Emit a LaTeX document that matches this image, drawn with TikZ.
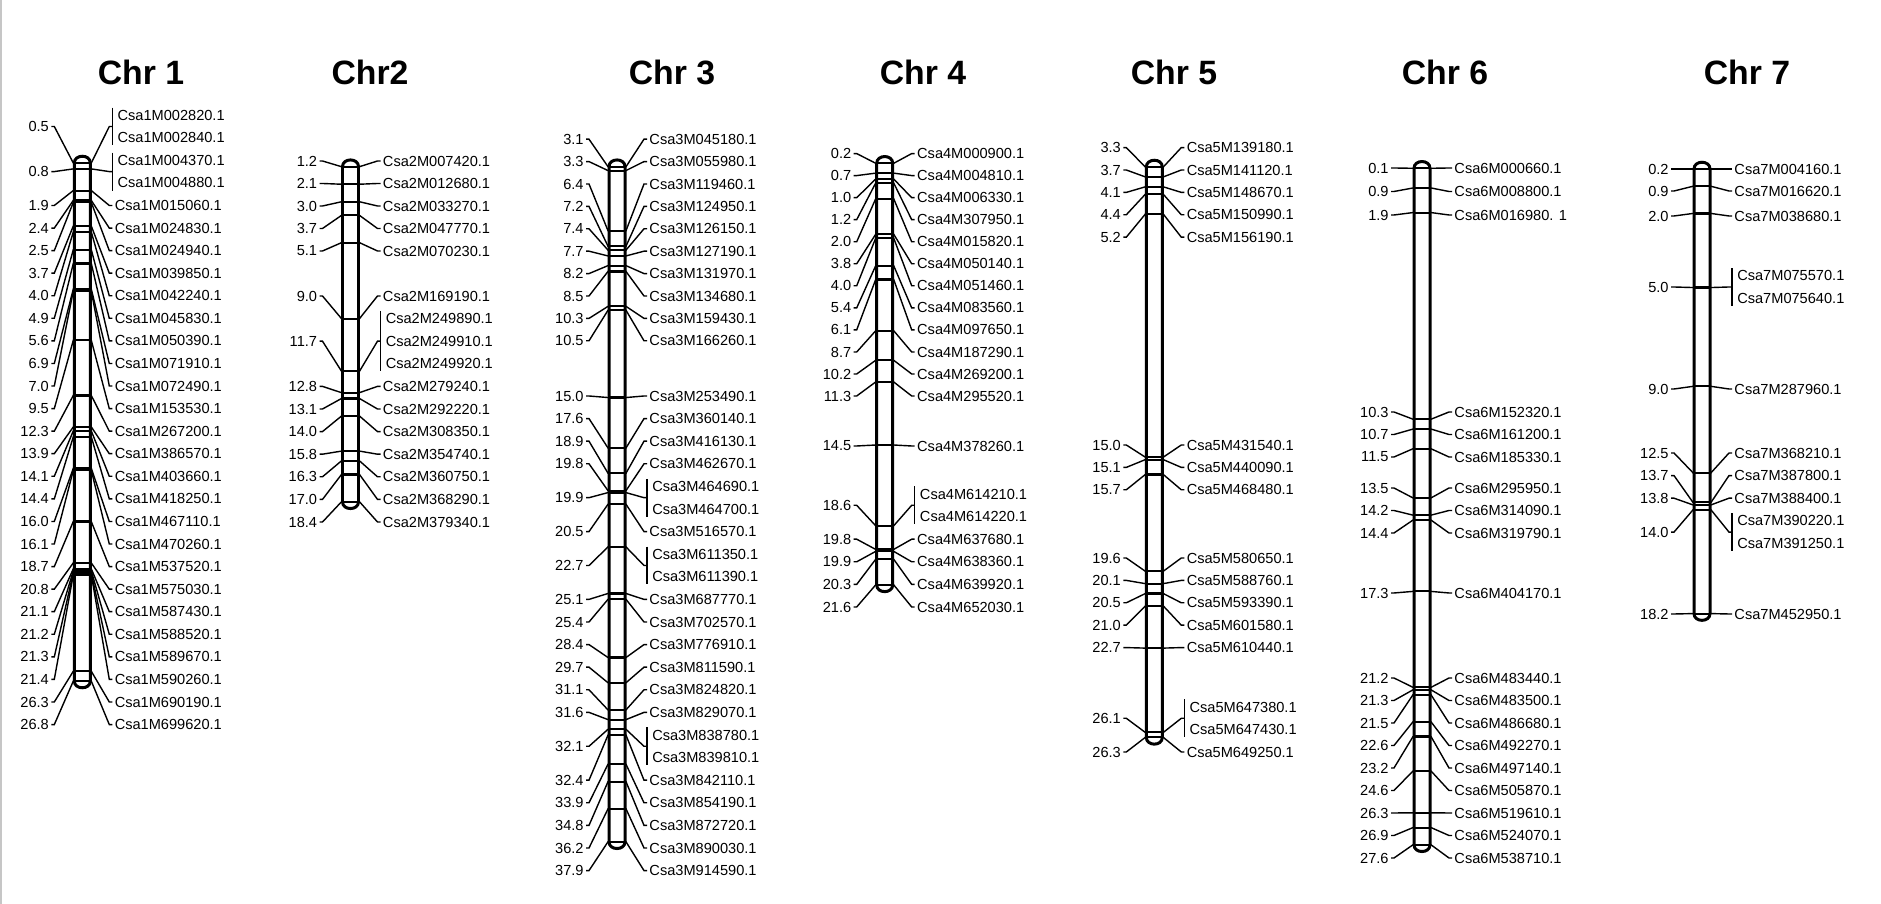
\documentclass[tikz,border=0pt]{standalone}
\usepackage{fontspec}
\setmainfont{Liberation Sans}
\begin{document}
\begin{tikzpicture}[x=0.01cm,y=-0.01cm,
        chrbar/.style={line width=0.85pt},
        markline/.style={line width=0.6pt},
        leader/.style={line width=0.4pt},
        poslabel/.style={anchor=east,inner sep=0.5pt,font=\fontsize{4.15}{6.43}\selectfont},
        genelabel/.style={anchor=west,inner sep=0.5pt,align=left,font=\fontsize{4.15}{6.43}\selectfont},
        chrtitle/.style={font=\fontsize{9.6}{11}\selectfont\bfseries}]
    \useasboundingbox (0,0) rectangle (1881,904);
    \draw [gray!45,line width=0.8pt] (1,0) -- (1,904);
    % Chr 1
    \node [chrtitle] (t1) at (141,72) {Chr 1};
    \begin{scope}[shift={(82.3,0)}]
        \draw [chrbar] (-8,163) -- (-8,681.1) .. controls (-8,690) and (8,690) .. (8,681.1) -- (8,163) .. controls (8,154) and (-8,154) .. (-8,163) -- cycle;
        \foreach \cm/\ly/\gn [count=\i] in {1.9/205.5/Csa1M015060.1, 2.4/228.1/Csa1M024830.1, 2.5/250.6/Csa1M024940.1,
            3.7/273.2/Csa1M039850.1, 4.0/295.8/Csa1M042240.1, 4.9/318.3/Csa1M045830.1, 5.6/340.9/Csa1M050390.1,
            6.9/363.5/Csa1M071910.1, 7.0/386.0/Csa1M072490.1, 9.5/408.6/Csa1M153530.1, 12.3/431.2/Csa1M267200.1,
            13.9/453.7/Csa1M386570.1, 14.1/476.3/Csa1M403660.1, 14.4/498.9/Csa1M418250.1, 16.0/521.5/Csa1M467110.1,
            16.1/544.0/Csa1M470260.1, 18.7/566.6/Csa1M537520.1, 20.8/589.2/Csa1M575030.1, 21.1/611.7/Csa1M587430.1,
            21.2/634.3/Csa1M588520.1, 21.3/656.9/Csa1M589670.1, 21.4/679.4/Csa1M590260.1, 26.3/702.0/Csa1M690190.1,
            26.8/724.6/Csa1M699620.1}{
            \pgfmathsetmacro{\my}{163+19.7*(\cm-0.5)}
            \draw [markline] (-8,\my) -- (8,\my);
            \node [poslabel] (c1p\i) at (-31,\ly) {\cm};
            \node [genelabel] (c1g\i) at (30,\ly) {\gn};
            \draw [leader] (c1p\i.east) -- ++(3,0) -- (-9,\my) -- (-8,\my);
            \draw [leader] (8,\my) -- (9,\my) -- (27,\ly) -- (c1g\i.west);
        }
        \foreach \cm/\ly/\gn [count=\i] in {0.5/126.5/Csa1M002820.1\\Csa1M002840.1, 0.8/171.6/Csa1M004370.1\\Csa1M004880.1}{
            \pgfmathsetmacro{\my}{163+19.7*(\cm-0.5)}
            \draw [markline] (-8,\my) -- (8,\my);
            \node [poslabel] (c1q\i) at (-31,\ly) {\cm};
            \node [genelabel,inner xsep=1.3pt] (c1h\i) at (30,\ly) {\gn};
            \draw [leader] (c1q\i.east) -- ++(3,0) -- (-9,\my) -- (-8,\my);
            \draw [leader] (8,\my) -- (9,\my) -- (27,\ly) -- (c1h\i.west);
            \draw [leader] (c1h\i.north west) -- (c1h\i.south west);
        }
    \end{scope}
    % Chr 2
    \node [chrtitle] (t2) at (370,72) {Chr2};
    \begin{scope}[shift={(350.5,0)}]
        \draw [chrbar] (-8,166.7) -- (-8,501.8) .. controls (-8,510.8) and (8,510.8) .. (8,501.8) -- (8,166.7) .. controls (8,157.7) and (-8,157.7) .. (-8,166.7) -- cycle;
        \foreach \cm/\ly/\gn [count=\i] in {1.2/161/Csa2M007420.1, 2.1/183.5/Csa2M012680.1, 3.0/206/Csa2M033270.1,
            3.7/228.5/Csa2M047770.1, 5.1/251/Csa2M070230.1, 9.0/296/Csa2M169190.1, 12.8/386.4/Csa2M279240.1,
            13.1/409/Csa2M292220.1, 14.0/431.6/Csa2M308350.1, 15.8/454.2/Csa2M354740.1, 16.3/476.8/Csa2M360750.1,
            17.0/499.4/Csa2M368290.1, 18.4/522/Csa2M379340.1}{
            \pgfmathsetmacro{\my}{166.7+19.48*(\cm-1.2)}
            \draw [markline] (-8,\my) -- (8,\my);
            \node [poslabel] (c2p\i) at (-31,\ly) {\cm};
            \node [genelabel] (c2g\i) at (30,\ly) {\gn};
            \draw [leader] (c2p\i.east) -- ++(3,0) -- (-9,\my) -- (-8,\my);
            \draw [leader] (8,\my) -- (9,\my) -- (27,\ly) -- (c2g\i.west);
        }
        \foreach \cm/\ly/\gn [count=\i] in {11.7/341.2/Csa2M249890.1\\Csa2M249910.1\\Csa2M249920.1}{
            \pgfmathsetmacro{\my}{166.7+19.48*(\cm-1.2)}
            \draw [markline] (-8,\my) -- (8,\my);
            \node [poslabel] (c2q\i) at (-31,\ly) {\cm};
            \node [genelabel,inner xsep=1.3pt] (c2h\i) at (30,\ly) {\gn};
            \draw [leader] (c2q\i.east) -- ++(3,0) -- (-9,\my) -- (-8,\my);
            \draw [leader] (8,\my) -- (9,\my) -- (27,\ly) -- (c2h\i.west);
            \draw [leader] (c2h\i.north west) -- (c2h\i.south west);
        }
    \end{scope}
    % Chr 3
    \node [chrtitle] (t3) at (672,72) {Chr 3};
    \begin{scope}[shift={(617,0)}]
        \draw [chrbar] (-8,166.7) -- (-8,841.8) .. controls (-8,850.8) and (8,850.8) .. (8,841.8) -- (8,166.7) .. controls (8,157.7) and (-8,157.7) .. (-8,166.7) -- cycle;
        \foreach \cm/\ly/\gn [count=\i] in {3.1/139.2/Csa3M045180.1, 3.3/161.6/Csa3M055980.1, 6.4/184/Csa3M119460.1,
            7.2/206.4/Csa3M124950.1, 7.4/228.8/Csa3M126150.1, 7.7/251.2/Csa3M127190.1, 8.2/273.6/Csa3M131970.1,
            8.5/296/Csa3M134680.1, 10.3/318.4/Csa3M159430.1, 10.5/340.8/Csa3M166260.1, 15.0/396/Csa3M253490.1,
            17.6/418.6/Csa3M360140.1, 18.9/441.2/Csa3M416130.1, 19.8/463.8/Csa3M462670.1, 20.5/531.6/Csa3M516570.1,
            25.1/599.4/Csa3M687770.1, 25.4/622/Csa3M702570.1, 28.4/644.6/Csa3M776910.1, 29.7/667.2/Csa3M811590.1,
            31.1/689.8/Csa3M824820.1, 31.6/712.4/Csa3M829070.1, 32.4/780.2/Csa3M842110.1, 33.9/802.8/Csa3M854190.1,
            34.8/825.4/Csa3M872720.1, 36.2/848/Csa3M890030.1, 37.9/870.6/Csa3M914590.1}{
            \pgfmathsetmacro{\my}{166.7+19.4*(\cm-3.1)}
            \draw [markline] (-8,\my) -- (8,\my);
            \node [poslabel] (c3p\i) at (-31,\ly) {\cm};
            \node [genelabel] (c3g\i) at (30,\ly) {\gn};
            \draw [leader] (c3p\i.east) -- ++(3,0) -- (-9,\my) -- (-8,\my);
            \draw [leader] (8,\my) -- (9,\my) -- (27,\ly) -- (c3g\i.west);
        }
        \foreach \cm/\ly/\gn [count=\i] in {19.9/497.7/Csa3M464690.1\\Csa3M464700.1, 22.7/565.5/Csa3M611350.1\\Csa3M611390.1,
            32.1/746.3/Csa3M838780.1\\Csa3M839810.1}{
            \pgfmathsetmacro{\my}{166.7+19.4*(\cm-3.1)}
            \draw [markline] (-8,\my) -- (8,\my);
            \node [poslabel] (c3q\i) at (-31,\ly) {\cm};
            \node [genelabel,inner xsep=1.3pt] (c3h\i) at (30,\ly) {\gn};
            \draw [leader] (c3q\i.east) -- ++(3,0) -- (-9,\my) -- (-8,\my);
            \draw [leader] (8,\my) -- (9,\my) -- (27,\ly) -- (c3h\i.west);
            \draw [leader] (c3h\i.north west) -- (c3h\i.south west);
        }
    \end{scope}
    % Chr 4
    \node [chrtitle] (t4) at (923,72) {Chr 4};
    \begin{scope}[shift={(884.7,0)}]
        \draw [chrbar] (-8,163.3) -- (-8,584.9) .. controls (-8,593.9) and (8,593.9) .. (8,584.9) -- (8,163.3) .. controls (8,154.3) and (-8,154.3) .. (-8,163.3) -- cycle;
        \foreach \cm/\ly/\gn [count=\i] in {0.2/153.6/Csa4M000900.1, 0.7/175.6/Csa4M004810.1, 1.0/197.7/Csa4M006330.1,
            1.2/219.7/Csa4M307950.1, 2.0/241.8/Csa4M015820.1, 3.8/263.8/Csa4M050140.1, 4.0/285.8/Csa4M051460.1,
            5.4/307.9/Csa4M083560.1, 6.1/329.9/Csa4M097650.1, 8.7/352/Csa4M187290.1, 10.2/374/Csa4M269200.1,
            11.3/396/Csa4M295520.1, 14.5/446/Csa4M378260.1, 19.8/539.2/Csa4M637680.1, 19.9/561.8/Csa4M638360.1,
            20.3/584.4/Csa4M639920.1, 21.6/607/Csa4M652030.1}{
            \pgfmathsetmacro{\my}{163.3+19.7*(\cm-0.2)}
            \draw [markline] (-8,\my) -- (8,\my);
            \node [poslabel] (c4p\i) at (-31,\ly) {\cm};
            \node [genelabel] (c4g\i) at (30,\ly) {\gn};
            \draw [leader] (c4p\i.east) -- ++(3,0) -- (-9,\my) -- (-8,\my);
            \draw [leader] (8,\my) -- (9,\my) -- (27,\ly) -- (c4g\i.west);
        }
        \foreach \cm/\ly/\gn [count=\i] in {18.6/505.3/Csa4M614210.1\\Csa4M614220.1}{
            \pgfmathsetmacro{\my}{163.3+19.7*(\cm-0.2)}
            \draw [markline] (-8,\my) -- (8,\my);
            \node [poslabel] (c4q\i) at (-31,\ly) {\cm};
            \node [genelabel,inner xsep=1.3pt] (c4h\i) at (30,\ly) {\gn};
            \draw [leader] (c4q\i.east) -- ++(3,0) -- (-9,\my) -- (-8,\my);
            \draw [leader] (8,\my) -- (9,\my) -- (27,\ly) -- (c4h\i.west);
            \draw [leader] (c4h\i.north west) -- (c4h\i.south west);
        }
    \end{scope}
    % Chr 5
    \node [chrtitle] (t5) at (1174,72) {Chr 5};
    \begin{scope}[shift={(1154.3,0)}]
        \draw [chrbar] (-8,167) -- (-8,737.4) .. controls (-8,746.4) and (8,746.4) .. (8,737.4) -- (8,167) .. controls (8,158) and (-8,158) .. (-8,167) -- cycle;
        \foreach \cm/\ly/\gn [count=\i] in {3.3/147.6/Csa5M139180.1, 3.7/170/Csa5M141120.1, 4.1/192.4/Csa5M148670.1,
            4.4/214.8/Csa5M150990.1, 5.2/237.2/Csa5M156190.1, 15.0/445/Csa5M431540.1, 15.1/467.4/Csa5M440090.1,
            15.7/489.8/Csa5M468480.1, 19.6/558/Csa5M580650.1, 20.1/580.4/Csa5M588760.1, 20.5/602.8/Csa5M593390.1,
            21.0/625.2/Csa5M601580.1, 22.7/647.6/Csa5M610440.1, 26.3/752/Csa5M649250.1}{
            \pgfmathsetmacro{\my}{167+24.8*(\cm-3.3)}
            \draw [markline] (-8,\my) -- (8,\my);
            \node [poslabel] (c5p\i) at (-31,\ly) {\cm};
            \node [genelabel] (c5g\i) at (30,\ly) {\gn};
            \draw [leader] (c5p\i.east) -- ++(3,0) -- (-9,\my) -- (-8,\my);
            \draw [leader] (8,\my) -- (9,\my) -- (27,\ly) -- (c5g\i.west);
        }
        \foreach \cm/\ly/\gn [count=\i] in {26.1/718.3/Csa5M647380.1\\Csa5M647430.1}{
            \pgfmathsetmacro{\my}{167+24.8*(\cm-3.3)}
            \draw [markline] (-8,\my) -- (8,\my);
            \node [poslabel] (c5q\i) at (-31,\ly) {\cm};
            \node [genelabel,inner xsep=1.3pt] (c5h\i) at (30,\ly) {\gn};
            \draw [leader] (c5q\i.east) -- ++(3,0) -- (-9,\my) -- (-8,\my);
            \draw [leader] (8,\my) -- (9,\my) -- (27,\ly) -- (c5h\i.west);
            \draw [leader] (c5h\i.north west) -- (c5h\i.south west);
        }
    \end{scope}
    % Chr 6
    \node [chrtitle] (t6) at (1445,72) {Chr 6};
    \begin{scope}[shift={(1422,0)}]
        \draw [chrbar] (-8,168.3) -- (-8,844.8) .. controls (-8,853.8) and (8,853.8) .. (8,844.8) -- (8,168.3) .. controls (8,159.3) and (-8,159.3) .. (-8,168.3) -- cycle;
        \foreach \cm/\ly/\gn [count=\i] in {0.1/168/Csa6M000660.1, 0.9/191.5/Csa6M008800.1, 1.9/215/Csa6M016980. 1,
            10.3/412/Csa6M152320.1, 10.7/434.5/Csa6M161200.1, 11.5/457/Csa6M185330.1, 13.5/488/Csa6M295950.1,
            14.2/510.5/Csa6M314090.1, 14.4/533/Csa6M319790.1, 17.3/593/Csa6M404170.1, 21.2/678/Csa6M483440.1,
            21.3/700.5/Csa6M483500.1, 21.5/723/Csa6M486680.1, 22.6/745.5/Csa6M492270.1, 23.2/768/Csa6M497140.1,
            24.6/790.5/Csa6M505870.1, 26.3/813/Csa6M519610.1, 26.9/835.5/Csa6M524070.1, 27.6/858/Csa6M538710.1}{
            \pgfmathsetmacro{\my}{168.3+24.6*(\cm-0.1)}
            \draw [markline] (-8,\my) -- (8,\my);
            \node [poslabel] (c6p\i) at (-31,\ly) {\cm};
            \node [genelabel] (c6g\i) at (30,\ly) {\gn};
            \draw [leader] (c6p\i.east) -- ++(3,0) -- (-9,\my) -- (-8,\my);
            \draw [leader] (8,\my) -- (9,\my) -- (27,\ly) -- (c6g\i.west);
        }
    \end{scope}
    % Chr 7
    \node [chrtitle] (t7) at (1747,72) {Chr 7};
    \begin{scope}[shift={(1702,0)}]
        \draw [chrbar] (-8,169) -- (-8,613.6) .. controls (-8,622.6) and (8,622.6) .. (8,613.6) -- (8,169) .. controls (8,160) and (-8,160) .. (-8,169) -- cycle;
        \foreach \cm/\ly/\gn [count=\i] in {0.2/169/Csa7M004160.1, 0.9/191/Csa7M016620.1, 2.0/216/Csa7M038680.1,
            9.0/389/Csa7M287960.1, 12.5/453/Csa7M368210.1, 13.7/475.6/Csa7M387800.1, 13.8/498.2/Csa7M388400.1,
            18.2/614/Csa7M452950.1}{
            \pgfmathsetmacro{\my}{169+24.7*(\cm-0.2)}
            \draw [markline] (-8,\my) -- (8,\my);
            \node [poslabel] (c7p\i) at (-31,\ly) {\cm};
            \node [genelabel] (c7g\i) at (30,\ly) {\gn};
            \draw [leader] (c7p\i.east) -- ++(3,0) -- (-9,\my) -- (-8,\my);
            \draw [leader] (8,\my) -- (9,\my) -- (27,\ly) -- (c7g\i.west);
        }
        \foreach \cm/\ly/\gn [count=\i] in {5.0/287/Csa7M075570.1\\Csa7M075640.1, 14.0/532.1/Csa7M390220.1\\Csa7M391250.1}{
            \pgfmathsetmacro{\my}{169+24.7*(\cm-0.2)}
            \draw [markline] (-8,\my) -- (8,\my);
            \node [poslabel] (c7q\i) at (-31,\ly) {\cm};
            \node [genelabel,inner xsep=1.3pt] (c7h\i) at (30,\ly) {\gn};
            \draw [leader] (c7q\i.east) -- ++(3,0) -- (-9,\my) -- (-8,\my);
            \draw [leader] (8,\my) -- (9,\my) -- (27,\ly) -- (c7h\i.west);
            \draw [leader] (c7h\i.north west) -- (c7h\i.south west);
        }
    \end{scope}
\end{tikzpicture}
\end{document}
